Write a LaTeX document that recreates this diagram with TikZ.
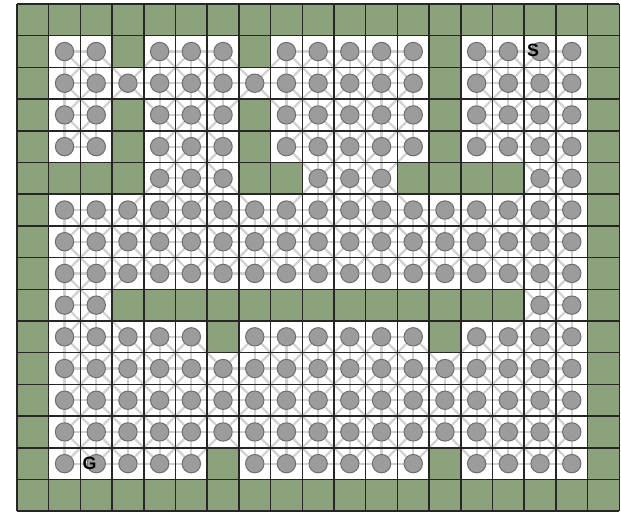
\documentclass[tikz,border=0pt]{standalone}
\usepackage{fontspec}
\setsansfont{Liberation Sans}
\pgfdeclarelayer{cells}
\pgfdeclarelayer{edges}
\pgfdeclarelayer{gridl}
\pgfsetlayers{cells,edges,gridl,main}
\definecolor{wallgreen}{RGB}{140,162,124}
\newcount\mapcol
\def\maprow#1#2{\global\mapcol=0 \def\maprowidx{#1}\mapparse#2\relax}
\def\mapparse#1{\ifx\relax#1\else\ifx o#1\expandafter\gdef\csname free-\maprowidx-\the\mapcol\endcsname{}\fi\global\advance\mapcol by 1 \expandafter\mapparse\fi}
\maprow{0}{xxxxxxxxxxxxxxxxxxx}
\maprow{1}{xooxoooxoooooxoooox}
\maprow{2}{xooooooooooooxoooox}
\maprow{3}{xooxoooxoooooxoooox}
\maprow{4}{xooxoooxoooooxoooox}
\maprow{5}{xxxxoooxxoooxxxxoox}
\maprow{6}{xooooooooooooooooox}
\maprow{7}{xooooooooooooooooox}
\maprow{8}{xooooooooooooooooox}
\maprow{9}{xooxxxxxxxxxxxxxoox}
\maprow{10}{xoooooxooooooxoooox}
\maprow{11}{xooooooooooooooooox}
\maprow{12}{xooooooooooooooooox}
\maprow{13}{xooooooooooooooooox}
\maprow{14}{xoooooxooooooxoooox}
\maprow{15}{xxxxxxxxxxxxxxxxxxx}
\begin{document}
\begin{tikzpicture}[
  wall/.style={fill=wallgreen},
  dot/.style={circle, minimum size=0.58cm, inner sep=0pt, fill=black!39, draw=black!57, line width=0.9pt},
  edge/.style={draw=black!18, line width=2pt},
  gridline/.style={draw=black!85, line width=1.3pt},
  lbl/.style={font=\sffamily\bfseries\fontsize{16}{16}\selectfont, text=black, inner sep=0pt}
]
\useasboundingbox (-0.536,0.126) rectangle (19.054,-16.057);
\begin{pgfonlayer}{cells}
  \fill[white] (0,0) rectangle (19,-16);
  \foreach \ry in {0,...,15}{\foreach \cx in {0,...,18}{
    \ifcsname free-\ry-\cx\endcsname\else
      \fill[wall] (\cx,-\ry) rectangle ++(1,-1);
    \fi}}
\end{pgfonlayer}
\foreach \ry in {1,...,14}{\foreach \cx in {1,...,17}{
  \ifcsname free-\ry-\cx\endcsname
    \node[dot] (n-\ry-\cx) at (\cx+0.5,-\ry-0.5) {};
  \fi}}
\begin{pgfonlayer}{edges}
\foreach \ry in {1,...,14}{\foreach \cx in {1,...,17}{
  \ifcsname free-\ry-\cx\endcsname
    \foreach \dr/\dc in {0/1,1/-1,1/0,1/1}{
      \pgfmathtruncatemacro\nr{\ry+\dr}
      \pgfmathtruncatemacro\nc{\cx+\dc}
      \ifcsname free-\nr-\nc\endcsname
        \draw[edge] (n-\ry-\cx) -- (n-\nr-\nc);
      \fi}
  \fi}}
\end{pgfonlayer}
\begin{pgfonlayer}{gridl}
  \draw[gridline] (0,0) grid (19,-16);
\end{pgfonlayer}
\node[lbl] (S) at ([xshift=-0.22cm,yshift=0.05cm]n-1-16.center) {S};
\node[lbl] (G) at ([xshift=-0.21cm]n-14-2.center) {G};
\end{tikzpicture}
\end{document}
